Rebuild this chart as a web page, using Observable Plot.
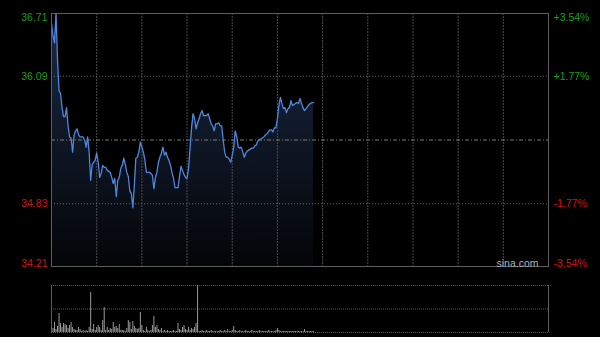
<!DOCTYPE html>
<html><head><meta charset="utf-8">
<script src="https://cdn.jsdelivr.net/npm/d3@7"></script>
<script src="https://cdn.jsdelivr.net/npm/@observablehq/plot@0.6"></script>
<style>
html,body{margin:0;padding:0;background:#000;}
#wrap{position:relative;width:600px;height:337px;background:#000;overflow:hidden;font-family:"Liberation Sans",Arial,sans-serif;}
#wrap svg{position:absolute;left:0;}
</style></head><body><div id="wrap"></div>
<script>
// Minute-by-minute price (index = minutes since 09:30, lunch break removed)
const prices = [
36.61,36.49,36.42,36.71,36.25,35.95,35.92,35.78,35.69,35.69,
35.78,35.60,35.49,35.48,35.34,35.51,35.55,35.57,35.51,35.49,
35.49,35.49,35.46,35.39,35.49,35.34,35.06,35.22,35.24,35.26,
35.33,35.24,35.09,35.13,35.21,35.19,35.19,35.16,35.15,35.14,
35.09,35.03,35.08,34.90,35.06,35.09,35.18,35.21,35.28,35.22,
35.14,35.10,34.96,34.93,34.79,35.01,35.28,35.29,35.34,35.44,
35.39,35.34,35.26,35.14,35.14,35.14,35.13,35.11,34.98,35.09,
35.14,35.24,35.29,35.33,35.39,35.31,35.34,35.29,35.26,35.21,
35.14,35.08,34.99,34.99,34.99,35.10,35.20,35.16,35.12,35.09,
35.08,35.18,35.38,35.58,35.72,35.67,35.57,35.63,35.67,35.72,
35.75,35.70,35.70,35.70,35.72,35.67,35.62,35.60,35.55,35.62,
35.62,35.63,35.60,35.60,35.46,35.34,35.29,35.29,35.27,35.24,
35.31,35.39,35.55,35.49,35.39,35.38,35.39,35.34,35.29,35.33,
35.35,35.36,35.37,35.38,35.38,35.40,35.41,35.45,35.46,35.47,
35.48,35.49,35.51,35.52,35.54,35.56,35.56,35.54,35.58,35.58,
35.67,35.80,35.88,35.82,35.77,35.78,35.73,35.77,35.78,35.85,
35.80,35.81,35.82,35.83,35.82,35.87,35.82,35.78,35.75,35.77,
35.79,35.81,35.82,35.83,35.83
];
// Minute volumes (relative units)
const volumes = [
19,4,10,3,6,19,9,5,9,8,
7,4,7,10,5,3,2,2,5,3,
1,2,1,2,1,5,40,3,8,2,
5,7,5,2,12,25,2,5,2,4,
3,10,5,6,4,8,2,2,2,1,
4,12,10,3,11,6,4,3,4,20,
7,2,1,5,2,1,2,7,16,5,
7,3,2,4,1,2,1,2,1,1,
1,2,1,1,9,3,2,5,7,3,
2,5,2,4,3,5,9,47,1,1,
2,1,1,2,1,1,2,1,1,1,
1,1,2,1,1,2,1,3,1,1,
2,6,2,1,1,2,1,1,1,2,
1,1,1,2,1,1,1,1,2,1,
1,1,1,1,2,1,1,1,1,2,
4,2,1,1,1,1,1,1,1,1,
1,1,1,1,1,1,1,1,3,1,
1,1,1,1,1
];
const prevClose = 35.46;
const sessionMinutes = 330;
const priceTicks = [34.21, 34.83, 35.46, 36.09, 36.71];
const priceLabels = ["34.21", "34.83", "", "36.09", "36.71"];
const pctLabels = ["-3.54%", "-1.77%", "", "+1.77%", "+3.54%"];
const timeGrid = [30, 60, 90, 120, 150, 180, 210, 240, 270, 300];

const GREEN = "#1c9c1c", RED = "#d01414";
const pts = prices.map((p, i) => ({m: i, p}));
const vols = volumes.map((v, i) => ({m: i, v}));

function gradDefs() {
  const d = document.createElementNS("http://www.w3.org/2000/svg", "defs");
  d.innerHTML = '<linearGradient id="pg" x1="0" y1="0" x2="0" y2="1">' +
    '<stop offset="0" stop-color="#1a2944"/><stop offset="1" stop-color="#040507"/></linearGradient>';
  return d;
}

function labelMarks() {
  const marks = [];
  priceTicks.forEach((v, i) => {
    if (!priceLabels[i]) return;
    const anchor = i === priceTicks.length - 1 ? "top" : i === 0 ? "bottom" : "middle";
    const fill = v > prevClose ? GREEN : RED;
    marks.push(Plot.text([v], {y: d => d, frameAnchor: "left", text: () => priceLabels[i],
      textAnchor: "end", lineAnchor: anchor, dx: -4, fill, fontSize: 10.5}));
    marks.push(Plot.text([v], {y: d => d, frameAnchor: "right", text: () => pctLabels[i],
      textAnchor: "start", lineAnchor: anchor, dx: 5, fill, fontSize: 10.5}));
  });
  return marks;
}

const main = Plot.plot({
  width: 600, height: 270,
  marginLeft: 51, marginRight: 52, marginTop: 13, marginBottom: 4,
  style: {background: "transparent", fontFamily: "'Liberation Sans', Arial, sans-serif"},
  x: {domain: [0, sessionMinutes], axis: null},
  y: {domain: [priceTicks[0], priceTicks[priceTicks.length - 1]], axis: null},
  marks: [
    gradDefs,
    Plot.areaY(pts, {x: "m", y1: priceTicks[0], y2: "p", fill: "url(#pg)"}),
    Plot.ruleX(timeGrid, {stroke: "#4a4a4a", strokeDasharray: "2,1"}),
    Plot.ruleY([priceTicks[1], priceTicks[3]], {stroke: "#6a6a6a", strokeDasharray: "1,2"}),
    Plot.ruleY([prevClose], {stroke: "#7a7a7a", strokeDasharray: "4,2,1,2"}),
    Plot.lineY(pts, {x: "m", y: "p", stroke: "#4f86e0", strokeWidth: 1.3}),
    Plot.frame({stroke: "#5e5e5e"}),
    Plot.text(["sina.com"], {frameAnchor: "bottom-right", textAnchor: "end", lineAnchor: "bottom",
      dx: -10, dy: 0, fill: "#b0b0b0", fontSize: 10.5}),
    ...labelMarks()
  ]
});
main.style.top = "0px";

const maxVol = d3.max(volumes);
const vol = Plot.plot({
  width: 600, height: 67,
  marginLeft: 51, marginRight: 52, marginTop: 15, marginBottom: 5,
  style: {background: "transparent"},
  x: {domain: [0, sessionMinutes], axis: null},
  y: {domain: [0, maxVol], axis: null},
  marks: [
    Plot.ruleY([0, maxVol / 2, maxVol], {stroke: "#5a5a5a", strokeDasharray: "1,1"}),
    Plot.ruleX(vols, {x: "m", y1: 0, y2: "v", stroke: "#9a9a9a"}),
    Plot.ruleX([0, sessionMinutes], {stroke: "#5e5e5e"})
  ]
});
vol.style.top = "270px";

const wrap = document.getElementById("wrap");
wrap.appendChild(main);
wrap.appendChild(vol);
</script>
</body></html>
